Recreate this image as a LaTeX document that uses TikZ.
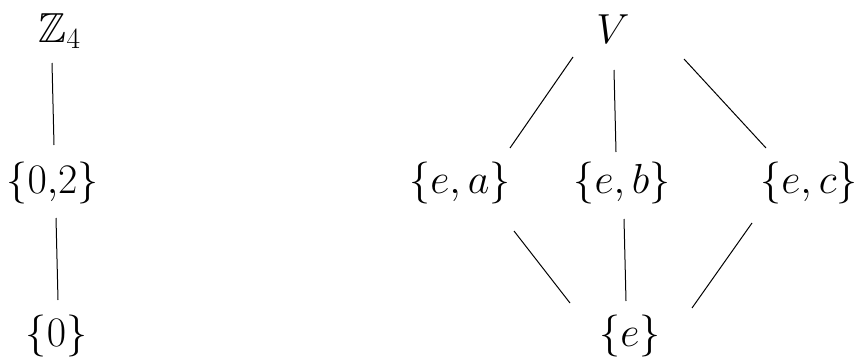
\documentclass[tikz,border=0pt]{standalone}
\usepackage{fix-cm}
\usepackage{amssymb}
\usetikzlibrary{calc}
\begin{document}
\begin{tikzpicture}[x=1pt,y=-1pt,
  lbl/.style={inner sep=0pt,font=\fontsize{42}{50}\selectfont},
  edge/.style={line width=1pt,black}]
\useasboundingbox (0,0) rectangle (856,356);
% left lattice
\node[lbl,anchor=base] (Z4) at (59.5,42) {$\mathbb{Z}_4$};
\node[lbl] (s02) at (52.5,183) {$\{0{,}2\}$};
\node[lbl] (s0) at (56.5,336) {$\{0\}$};
% right lattice
\node[lbl,anchor=base] (V) at (613,43) {$V$};
\node[lbl] (ea) at (460,183) {$\{e,a\}$};
\node[lbl] (eb) at (622,183) {$\{e,b\}$};
\node[lbl] (ec) at (809,183) {$\{e,c\}$};
\node[lbl] (e) at (630,336) {$\{e\}$};
% connectors
\draw[edge] ($(Z4.base)+(-7.5,21)$) -- ($(s02)+(1.5,-38)$);
\draw[edge] ($(s02)+(3.5,35)$) -- ($(s0)+(1.5,-36)$);
\draw[edge] ($(V.base)+(-40,14)$) -- ($(ea)+(50,-35)$);
\draw[edge] ($(V.base)+(1,27)$) -- ($(eb)+(-6,-31)$);
\draw[edge] ($(V.base)+(71,16)$) -- ($(ec)+(-43,-35)$);
\draw[edge] ($(ea)+(54,48)$) -- ($(e)+(-60,-33)$);
\draw[edge] ($(eb)+(2,36)$) -- ($(e)+(-4,-35)$);
\draw[edge] ($(ec)+(-57,40)$) -- ($(e)+(62,-28)$);
\end{tikzpicture}
\end{document}
